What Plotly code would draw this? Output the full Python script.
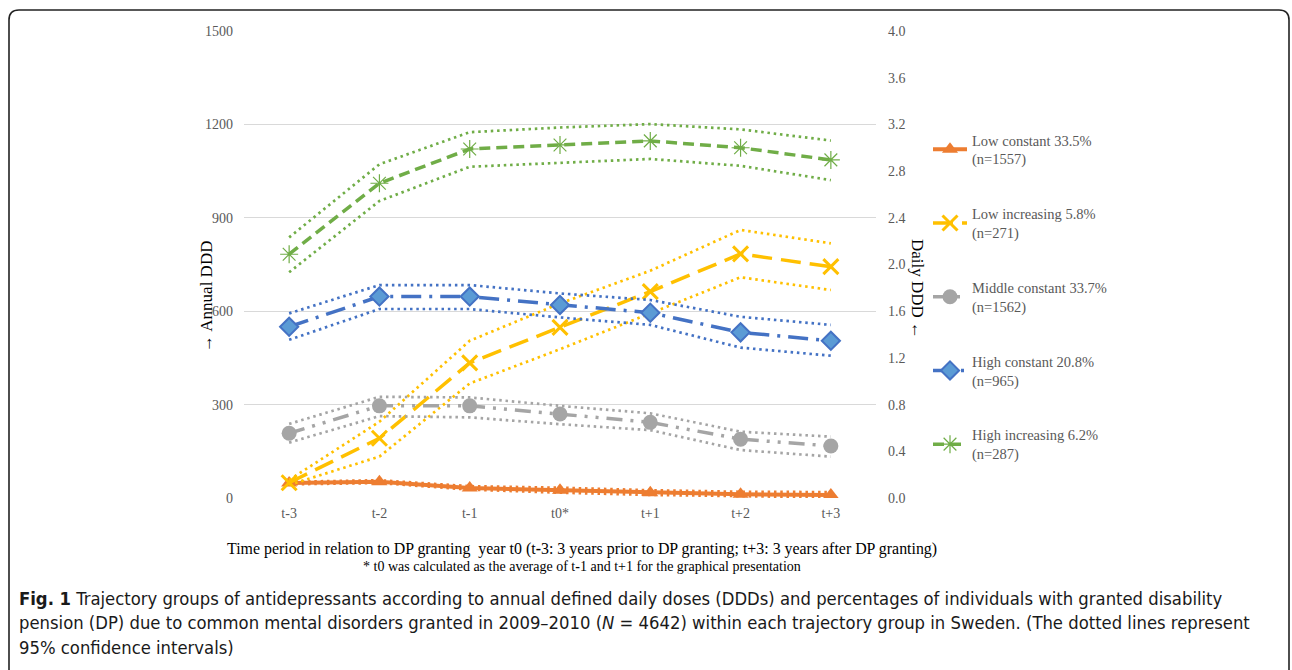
import plotly.graph_objects as go

categories = ["t-3", "t-2", "t-1", "t0*", "t+1", "t+2", "t+3"]

low_const = [48, 52, 32, 25, 17, 12, 10]
low_const_hi = [52, 57, 38, 33, 25, 20, 19]
low_const_lo = [44, 48, 27, 17, 10, 5, 2]

low_inc = [49, 192, 434, 548, 663, 784, 743]
low_inc_hi = [58, 245, 505, 625, 730, 861, 818]
low_inc_lo = [42, 133, 368, 478, 593, 709, 668]

mid_const = [208, 296, 296, 270, 243, 189, 167]
mid_const_hi = [238, 325, 323, 296, 272, 213, 197]
mid_const_lo = [178, 263, 259, 237, 218, 154, 133]

high_const = [550, 647, 647, 620, 595, 532, 505]
high_const_hi = [593, 684, 684, 657, 636, 582, 556]
high_const_lo = [508, 607, 607, 580, 556, 483, 457]

high_inc = [783, 1011, 1121, 1134, 1147, 1125, 1086]
high_inc_hi = [837, 1072, 1175, 1190, 1201, 1184, 1148]
high_inc_lo = [725, 954, 1064, 1077, 1089, 1067, 1021]

series_names = [
    "Low constant 33.5%<br>(n=1557)",
    "Low increasing 5.8%<br>(n=271)",
    "Middle constant 33.7%<br>(n=1562)",
    "High constant 20.8%<br>(n=965)",
    "High increasing 6.2%<br>(n=287)",
]

left_ticks = [0, 300, 600, 900, 1200, 1500]
right_ticks = [0.0, 0.4, 0.8, 1.2, 1.6, 2.0, 2.4, 2.8, 3.2, 3.6, 4.0]

ORANGE = "#ED7D31"
YELLOW = "#FFC000"
GRAY = "#A5A5A5"
BLUE = "#4472C4"
GREEN = "#70AD47"

SERIF = "Liberation Serif, Times New Roman, serif"
DOT = "2.5px,3.8px"

W, H = 1292, 670
L, R, T, B = 244, 876, 31, 498

fig = go.Figure()

specs = [
    (low_const, low_const_hi, low_const_lo, ORANGE, "solid", 4,
     dict(symbol="triangle-up", size=14, color=ORANGE, line=dict(width=0))),
    (low_inc, low_inc_hi, low_inc_lo, YELLOW, "20px,9px", 3.5,
     dict(symbol="x-thin-open", size=15, color=YELLOW, line=dict(width=3, color=YELLOW))),
    (mid_const, mid_const_hi, mid_const_lo, GRAY, "16px,8px,3px,8px,3px,8px", 3.5,
     dict(symbol="circle", size=15, color=GRAY, line=dict(width=0))),
    (high_const, high_const_hi, high_const_lo, BLUE, "20px,8px,3px,8px", 3.5,
     dict(symbol="diamond", size=14, color="#5B9BD5", line=dict(width=2, color=BLUE))),
    (high_inc, high_inc_hi, high_inc_lo, GREEN, "11px,6px", 3.5,
     dict(symbol="asterisk-open", size=15, color=GREEN, line=dict(width=1.2, color=GREEN))),
]

for i, (main, hi, lo, col, dash, lw, marker) in enumerate(specs):
    for ci in (hi, lo):
        fig.add_trace(go.Scatter(
            x=categories, y=ci, mode="lines",
            line=dict(color=col, width=2.7, dash=DOT),
            showlegend=False, hoverinfo="skip",
        ))
    fig.add_trace(go.Scatter(
        x=categories, y=main, mode="lines+markers", name=series_names[i],
        line=dict(color=col, width=lw, dash=dash),
        marker=marker, legendgroup=f"g{i}",
    ))

# invisible trace on the right axis for the Daily DDD scale
fig.add_trace(go.Scatter(x=categories, y=[None] * len(categories), yaxis="y2",
                         showlegend=False, hoverinfo="skip"))

def px_x(p):
    return (p - L) / (R - L)

def px_y(p):
    return (B - p) / (B - T)

annotations = [
    dict(text="→ Annual DDD", x=px_x(206), y=px_y(297), xref="paper", yref="paper",
         xanchor="center", yanchor="middle",
         textangle=-90, showarrow=False, font=dict(family=SERIF, size=17, color="#000000")),
    dict(text="Daily DDD ←", x=px_x(918), y=px_y(289), xref="paper", yref="paper",
         xanchor="center", yanchor="middle",
         textangle=90, showarrow=False, font=dict(family=SERIF, size=17, color="#000000")),
    dict(text="Time period in relation to DP granting  year t0 (t<b>-</b>3: 3 years prior to DP granting; t+3: 3 years after DP granting)",
         x=px_x(582), y=px_y(549), xref="paper", yref="paper", showarrow=False,
         xanchor="center", yanchor="middle",
         font=dict(family=SERIF, size=15.9, color="#000000")),
    dict(text="* t0 was calculated as the average of t<b>-</b>1 and t+1 for the graphical presentation",
         x=px_x(582), y=px_y(566), xref="paper", yref="paper", showarrow=False,
         xanchor="center", yanchor="middle",
         font=dict(family=SERIF, size=14, color="#000000")),
]

CAP = "Liberation Sans Narrow, DejaVu Sans Condensed, Arial Narrow, sans-serif"
cap_lines = [
    "<b>Fig. 1</b> Trajectory groups of antidepressants according to annual defined daily doses (DDDs) and percentages of individuals with granted disability",
    "pension (DP) due to common mental disorders granted in 2009–2010 (<i>N</i> = 4642) within each trajectory group in Sweden. (The dotted lines represent",
    "95% confidence intervals)",
]
for k, line in enumerate(cap_lines):
    annotations.append(dict(text=line, x=px_x(17), y=px_y(598 + 24.5 * k), xref="paper", yref="paper",
                            xanchor="left", yanchor="middle", showarrow=False,
                            font=dict(family=CAP, size=18.3, color="#1a1a1a")))

# rounded frame around the figure (pixel geometry converted to paper units)
x0, x1, y0, y1, r = 9, 1289, 10, 700, 10
frame = (f"M {px_x(x0)},{px_y(y1)} L {px_x(x0)},{px_y(y0 + r)} "
         f"Q {px_x(x0)},{px_y(y0)} {px_x(x0 + r)},{px_y(y0)} "
         f"L {px_x(x1 - r)},{px_y(y0)} Q {px_x(x1)},{px_y(y0)} {px_x(x1)},{px_y(y0 + r)} "
         f"L {px_x(x1)},{px_y(y1)}")

fig.update_layout(
    width=W, height=H,
    margin=dict(l=L, r=W - R, t=T, b=H - B),
    paper_bgcolor="white", plot_bgcolor="white",
    font=dict(family=SERIF, size=14, color="#595959"),
    xaxis=dict(type="category", range=[-0.5, 6.5], showgrid=False, zeroline=False,
               showline=False, ticks="", ticklabelstandoff=5,
               tickfont=dict(family=SERIF, size=14, color="#595959")),
    yaxis=dict(range=[0, 1500], tickvals=left_ticks, showgrid=True, gridcolor="#D9D9D9",
               gridwidth=1, zeroline=False, showline=False, ticks="",
               tickfont=dict(family=SERIF, size=14, color="#595959"), ticklabelstandoff=10),
    yaxis2=dict(range=[0, 4], tickvals=right_ticks, ticktext=[f"{v:.1f}" for v in right_ticks],
                overlaying="y", side="right", showgrid=False, zeroline=False, showline=False,
                ticks="", tickfont=dict(family=SERIF, size=14, color="#595959"), ticklabelstandoff=11),
    legend=dict(x=px_x(928), y=px_y(124), xanchor="left", yanchor="top",
                font=dict(family=SERIF, size=14.5, color="#595959"),
                tracegroupgap=33, itemwidth=34, bgcolor="rgba(0,0,0,0)"),
    annotations=annotations,
    shapes=[dict(type="path", path=frame, xref="paper", yref="paper",
                 line=dict(color="#222222", width=1.6))],
    showlegend=True,
)

fig.write_html("out.html", config={"displayModeBar": False},
               post_script="document.body.style.margin='0';document.body.style.overflow='hidden';")
